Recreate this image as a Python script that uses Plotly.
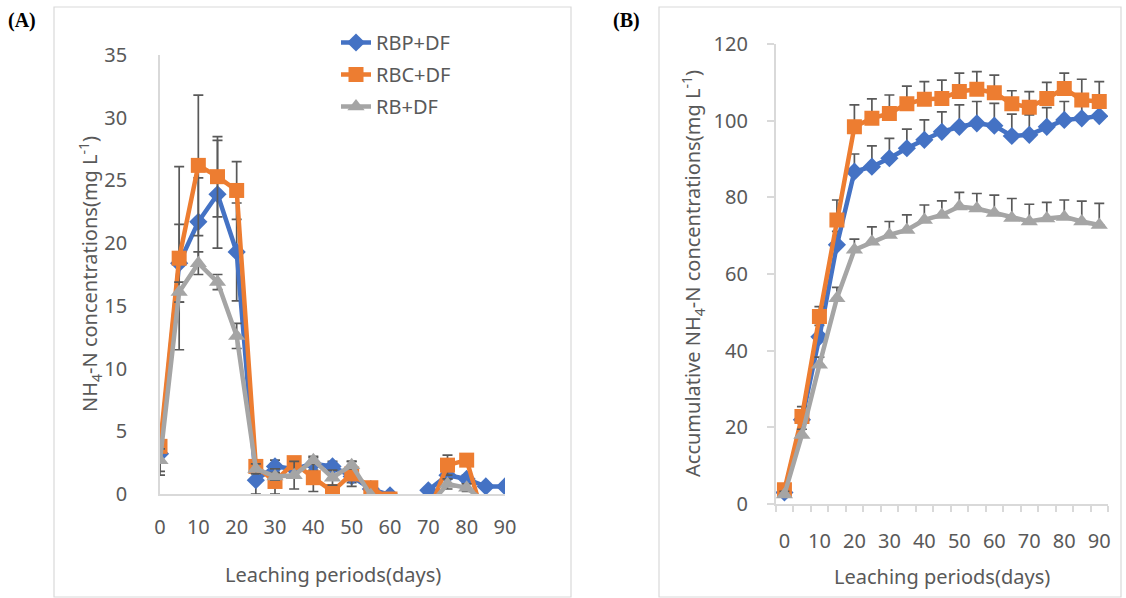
import plotly.graph_objects as go

W, H = 1126, 598

days = [0, 5, 10, 15, 20, 25, 30, 35, 40, 45, 50, 55, 60, 65, 70, 75, 80, 85, 90]
tick_days = [0, 10, 20, 30, 40, 50, 60, 70, 80, 90]
series_names = ["RBP+DF", "RBC+DF", "RB+DF"]

# Panel (A): NH4-N concentrations (mg L-1); None = no data
a_rbp = [3.2, 18.4, 21.7, 23.9, 19.3, 1.1, 2.2, 2.0, 2.4, 2.2, 1.4, 0.4, -0.1, None, 0.3, 1.5, 1.2, 0.6, 0.6]
a_rbc = [3.8, 18.8, 26.2, 25.3, 24.2, 2.2, 1.0, 2.5, 1.3, 0.2, 1.6, 0.5, -0.4, None, -1.5, 2.3, 2.7, -2.5, None]
a_rb = [2.7, 16.1, 18.4, 16.9, 12.6, 2.0, 1.4, 1.5, 2.7, 1.3, 2.3, -0.1, None, None, -1.0, 0.8, 0.5, -0.7, None]
a_rbp_err = [1.7, 3.1, 3.5, 4.3, 3.9, 1.1, 0.5, 0.5, 0.5, 0.4, 0.5, 0.3, 0, 0, 0.2, 0.3, 0.3, 0.2, 0.2]
a_rbc_err = [0.5, 7.3, 5.6, 3.2, 2.3, 0.5, 1.0, 0.3, 1.1, 0.3, 1.0, 0.3, 0, 0, 0, 0.8, 0.4, 0, 0]
a_rb_err = [0.9, 0.8, 0.9, 0.6, 1.0, 0.4, 0.3, 1.1, 0.3, 0.6, 0.3, 0, 0, 0, 0, 0.4, 0.3, 0, 0]

# Panel (B): accumulative NH4-N concentrations (mg L-1)
b_rbp = [3.0, 22.0, 43.6, 67.6, 86.7, 88.0, 90.2, 92.8, 95.0, 97.1, 98.4, 99.3, 98.7, 96.0, 96.3, 98.4, 100.2, 100.6, 101.2]
b_rbc = [3.7, 22.8, 48.9, 74.1, 98.4, 100.6, 101.9, 104.4, 105.6, 105.8, 107.6, 108.2, 107.3, 104.4, 103.5, 105.8, 108.4, 105.4, 105.0]
b_rb = [2.5, 18.0, 36.3, 53.7, 66.3, 68.4, 70.2, 71.5, 74.1, 75.4, 77.6, 77.1, 75.9, 74.6, 73.7, 74.5, 74.9, 73.7, 72.8]
b_rbp_err = [1.0, 2.5, 3.0, 3.5, 4.6, 5.4, 5.2, 5.0, 5.2, 5.2, 5.7, 5.7, 5.8, 5.7, 5.2, 5.0, 4.8, 4.0, 4.0]
b_rbc_err = [1.0, 2.6, 2.6, 5.2, 5.7, 5.1, 4.8, 4.6, 4.6, 4.8, 4.8, 4.6, 4.6, 3.4, 4.1, 4.2, 4.0, 5.4, 5.2]
b_rb_err = [0.8, 1.5, 2.0, 2.8, 2.8, 3.9, 3.5, 3.9, 3.9, 3.7, 3.7, 3.9, 4.7, 5.1, 4.5, 4.2, 4.4, 5.3, 5.6]

colors = ["#4472C4", "#ED7D31", "#A5A5A5"]
symbols = ["diamond", "square", "triangle-up"]
sizes = [14, 15, 15]
ERR_COLOR = "#595959"
AX_COLOR = "#d9d9d9"
TXT = "#595959"
FONT = "Noto Sans"

fig = go.Figure()

a_vals = [a_rbp, a_rbc, a_rb]
a_errs = [a_rbp_err, a_rbc_err, a_rb_err]
b_vals = [b_rbp, b_rbc, b_rb]
b_errs = [b_rbp_err, b_rbc_err, b_rb_err]

for i in range(3):
    fig.add_trace(go.Scatter(
        x=days, y=a_vals[i], name=series_names[i], mode="lines+markers",
        line=dict(color=colors[i], width=4.5),
        marker=dict(symbol=symbols[i], size=sizes[i], color=colors[i]),
        error_y=dict(type="data", array=a_errs[i], symmetric=True,
                     color=ERR_COLOR, thickness=1.7, width=5),
        xaxis="x", yaxis="y", legendgroup=series_names[i], showlegend=True,
    ))

for i in range(3):
    fig.add_trace(go.Scatter(
        x=days, y=b_vals[i], name=series_names[i], mode="lines+markers",
        line=dict(color=colors[i], width=4.5),
        marker=dict(symbol=symbols[i], size=sizes[i], color=colors[i]),
        error_y=dict(type="data", array=b_errs[i], arrayminus=[0] * len(days),
                     symmetric=False, color=ERR_COLOR, thickness=1.7, width=5),
        xaxis="x2", yaxis="y2", legendgroup=series_names[i], showlegend=False,
    ))

def px(x):
    return x / W

def py(y):
    return 1 - y / H

tickfont = dict(family=FONT, size=20, color=TXT)

fig.update_layout(
    template="none",
    width=W, height=H, autosize=False,
    margin=dict(l=0, r=0, t=0, b=0, pad=0, autoexpand=False),
    paper_bgcolor="white", plot_bgcolor="white",
    showlegend=True,
    legend=dict(x=px(336), y=py(23), xanchor="left", yanchor="top",
                font=dict(family=FONT, size=20, color=TXT),
                bgcolor="rgba(0,0,0,0)", tracegroupgap=3),
    xaxis=dict(domain=[px(160), px(505)], range=[0, 90], anchor="y",
               tickmode="array", tickvals=tick_days, ticks="",
               showline=True, linecolor=AX_COLOR, linewidth=1.5,
               showgrid=False, zeroline=False, tickfont=tickfont,
               ticklabelstandoff=14, automargin=False),
    yaxis=dict(domain=[py(494), py(55)], range=[0, 35], anchor="x",
               tick0=0, dtick=5, ticks="",
               showline=True, linecolor=AX_COLOR, linewidth=1.5,
               showgrid=False, zeroline=False, tickfont=tickfont,
               ticklabelstandoff=27, automargin=False),
    xaxis2=dict(domain=[px(775.7), px(1108)], range=[-2.5, 92.5], anchor="y2",
                tickmode="linear", tick0=0, dtick=10, ticks="",
                minor=dict(ticks="outside", tick0=2.5, dtick=5, ticklen=6,
                           tickcolor=AX_COLOR, tickwidth=1.5, showgrid=False),
                showline=True, linecolor=AX_COLOR, linewidth=1.5,
                showgrid=False, zeroline=False, tickfont=tickfont,
                ticklabelstandoff=18, automargin=False),
    yaxis2=dict(domain=[py(504), py(44)], range=[0, 120], anchor="x2",
                tick0=0, dtick=20, ticks="outside", ticklen=7,
                tickcolor=AX_COLOR, tickwidth=1.5,
                showline=True, linecolor=AX_COLOR, linewidth=1.5,
                showgrid=False, zeroline=False, tickfont=tickfont,
                ticklabelstandoff=15, automargin=False),
)

title_font = dict(family=FONT, size=20, color=TXT)
annotations = [
    dict(text="<b>(A)</b>", x=px(6), y=py(21), xref="paper", yref="paper",
         xanchor="left", yanchor="middle", showarrow=False,
         font=dict(family="Liberation Serif", size=20, color="black")),
    dict(text="<b>(B)</b>", x=px(611), y=py(21), xref="paper", yref="paper",
         xanchor="left", yanchor="middle", showarrow=False,
         font=dict(family="Liberation Serif", size=20, color="black")),
    dict(text="Leaching periods(days)", x=px(333), y=py(574), xref="paper", yref="paper",
         xanchor="center", yanchor="middle", showarrow=False, font=title_font),
    dict(text="Leaching periods(days)", x=px(942), y=py(576), xref="paper", yref="paper",
         xanchor="center", yanchor="middle", showarrow=False, font=title_font),
    dict(text="NH<sub>4</sub>-N concentrations(mg L<sup>-1</sup>)", x=px(90), y=py(274),
         xref="paper", yref="paper", xanchor="center", yanchor="middle",
         textangle=-90, showarrow=False, font=title_font),
    dict(text="Accumulative NH<sub>4</sub>-N concentrations(mg L<sup>-1</sup>)", x=px(693), y=py(274),
         xref="paper", yref="paper", xanchor="center", yanchor="middle",
         textangle=-90, showarrow=False, font=title_font),
]
fig.update_layout(annotations=annotations)

fig.update_layout(shapes=[
    dict(type="rect", xref="paper", yref="paper", x0=px(54), x1=px(571), y0=py(597), y1=py(7),
         line=dict(color=AX_COLOR, width=1.2), layer="below"),
    dict(type="rect", xref="paper", yref="paper", x0=px(659), x1=px(1121), y0=py(597), y1=py(7),
         line=dict(color=AX_COLOR, width=1.2), layer="below"),
])

fig.write_html("out.html")
